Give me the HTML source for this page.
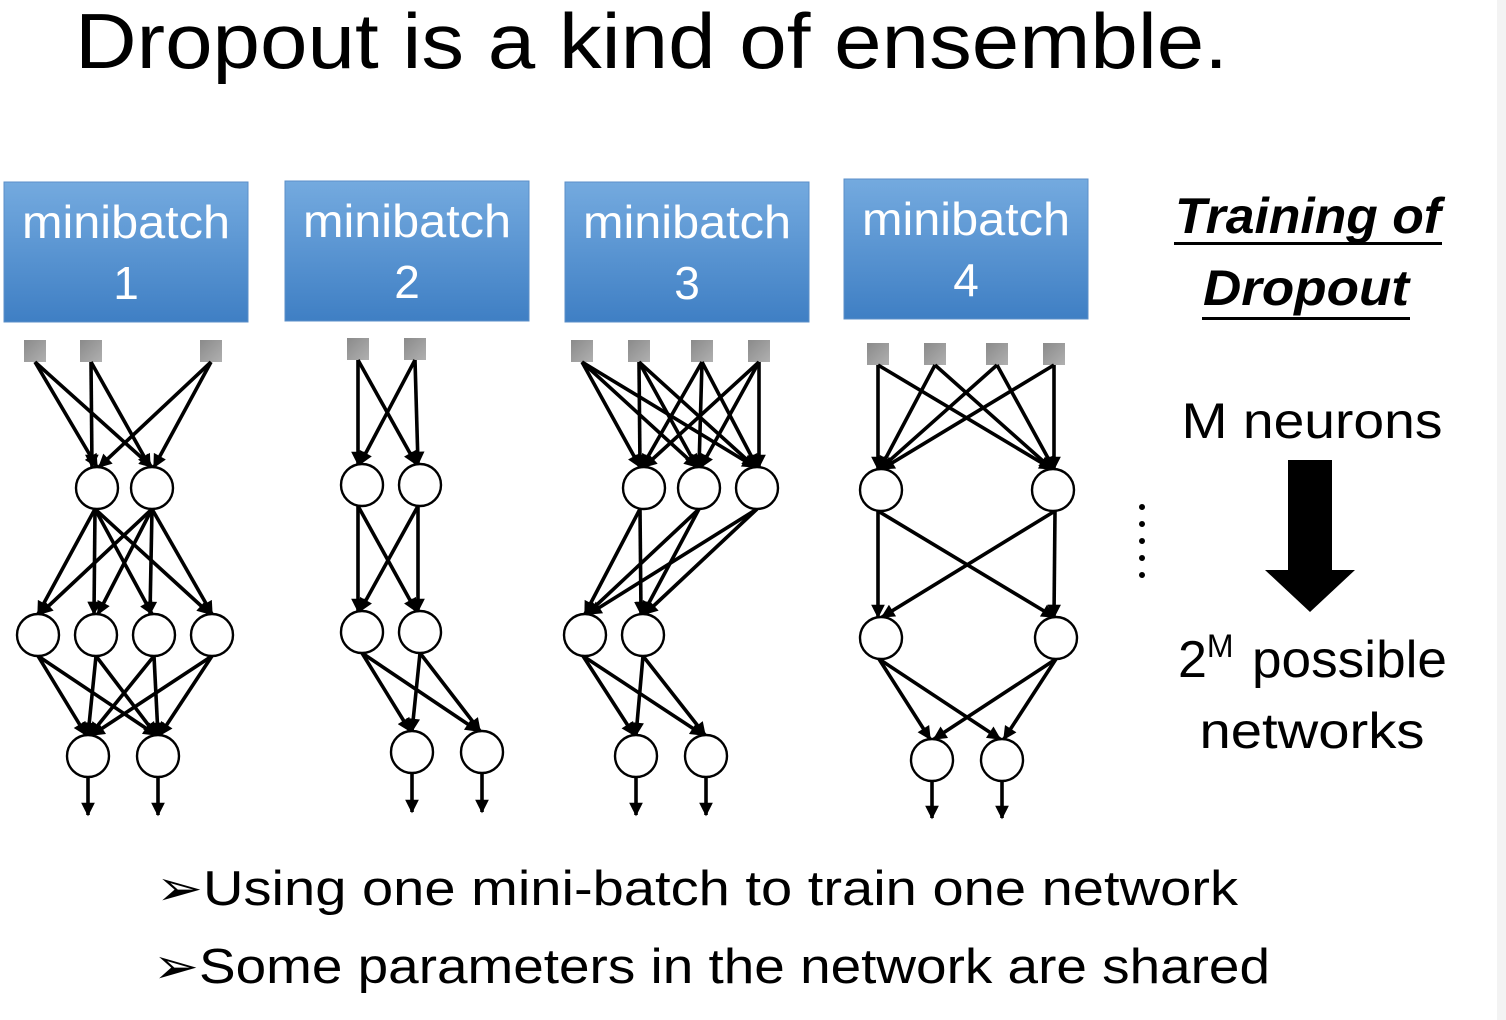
<!DOCTYPE html>
<html><head><meta charset="utf-8"><style>
html,body{margin:0;padding:0;background:#fff;}
svg{display:block;}
text{font-family:"Liberation Sans",sans-serif;}
</style></head><body>
<svg width="1506" height="1020" viewBox="0 0 1506 1020" xmlns="http://www.w3.org/2000/svg">
<defs>
<linearGradient id="bg" x1="0" y1="0" x2="0" y2="1">
<stop offset="0" stop-color="#74aadf"/><stop offset="1" stop-color="#3f7fc4"/>
</linearGradient>
<linearGradient id="sq" x1="0" y1="0" x2="1" y2="1">
<stop offset="0" stop-color="#8a8a8a"/><stop offset="1" stop-color="#b0b0b0"/>
</linearGradient>
<marker id="a" viewBox="0 0 10 10" refX="9" refY="5" markerWidth="4.2" markerHeight="3.8" orient="auto" markerUnits="strokeWidth">
<path d="M0,0 L10,5 L0,10 z" fill="#000"/>
</marker>
</defs>
<rect x="1497" y="0" width="9" height="1020" fill="#f3f3f3"/>
<text x="75" y="68" font-size="78" textLength="1153" lengthAdjust="spacingAndGlyphs" fill="#000">Dropout is a kind of ensemble.</text>

<g fill="url(#bg)" stroke="#5b8fc8" stroke-width="1">
<rect x="4" y="182" width="244" height="140"/>
<rect x="285" y="181" width="244" height="140"/>
<rect x="565" y="182" width="244" height="140"/>
<rect x="844" y="179" width="244" height="140"/>
</g>
<g fill="#fff" font-size="46" text-anchor="middle">
<text x="126" y="238" textLength="208" lengthAdjust="spacingAndGlyphs">minibatch</text><text x="126" y="299">1</text>
<text x="407" y="237" textLength="208" lengthAdjust="spacingAndGlyphs">minibatch</text><text x="407" y="298">2</text>
<text x="687" y="238" textLength="208" lengthAdjust="spacingAndGlyphs">minibatch</text><text x="687" y="299">3</text>
<text x="966" y="235" textLength="208" lengthAdjust="spacingAndGlyphs">minibatch</text><text x="966" y="296">4</text>
</g>

<g fill="url(#sq)">
<rect x="24" y="340" width="22" height="22"/><rect x="80" y="340" width="22" height="22"/><rect x="200" y="340" width="22" height="22"/>
<rect x="347" y="338" width="22" height="22"/><rect x="404" y="338" width="22" height="22"/>
<rect x="571" y="340" width="22" height="22"/><rect x="628" y="340" width="22" height="22"/><rect x="691" y="340" width="22" height="22"/><rect x="748" y="340" width="22" height="22"/>
<rect x="867" y="343" width="22" height="22"/><rect x="924" y="343" width="22" height="22"/><rect x="986" y="343" width="22" height="22"/><rect x="1043" y="343" width="22" height="22"/>
</g>

<g stroke="#000" stroke-width="3.6" marker-end="url(#a)">
<!-- net1 -->
<line x1="35" y1="362" x2="97" y2="467"/><line x1="35" y1="362" x2="152" y2="467"/>
<line x1="91" y1="362" x2="92" y2="467"/><line x1="91" y1="362" x2="150" y2="467"/>
<line x1="211" y1="362" x2="99" y2="467"/><line x1="211" y1="362" x2="154" y2="467"/>
<line x1="95" y1="509" x2="38" y2="614"/><line x1="95" y1="509" x2="94" y2="614"/><line x1="95" y1="509" x2="152" y2="614"/><line x1="95" y1="509" x2="210" y2="614"/>
<line x1="152" y1="509" x2="40" y2="614"/><line x1="152" y1="509" x2="98" y2="614"/><line x1="152" y1="509" x2="150" y2="614"/><line x1="152" y1="509" x2="212" y2="614"/>
<line x1="38" y1="656" x2="86" y2="735"/><line x1="38" y1="656" x2="156" y2="735"/>
<line x1="96" y1="656" x2="88" y2="735"/><line x1="96" y1="656" x2="156" y2="735"/>
<line x1="154" y1="656" x2="90" y2="735"/><line x1="154" y1="656" x2="158" y2="735"/>
<line x1="212" y1="656" x2="92" y2="735"/><line x1="212" y1="656" x2="160" y2="735"/>
<line x1="88" y1="777" x2="88" y2="815"/><line x1="158" y1="777" x2="158" y2="815"/>
<!-- net2 -->
<line x1="358" y1="360" x2="358" y2="464"/><line x1="358" y1="360" x2="416" y2="464"/>
<line x1="415" y1="360" x2="360" y2="464"/><line x1="415" y1="360" x2="418" y2="464"/>
<line x1="358" y1="506" x2="358" y2="611"/><line x1="358" y1="506" x2="416" y2="611"/>
<line x1="418" y1="506" x2="360" y2="611"/><line x1="418" y1="506" x2="418" y2="611"/>
<line x1="362" y1="653" x2="410" y2="731"/><line x1="362" y1="653" x2="478" y2="731"/>
<line x1="420" y1="653" x2="412" y2="731"/><line x1="420" y1="653" x2="480" y2="731"/>
<line x1="412" y1="773" x2="412" y2="812"/><line x1="482" y1="773" x2="482" y2="812"/>
<!-- net3 -->
<line x1="582" y1="362" x2="640" y2="467"/><line x1="582" y1="362" x2="697" y2="467"/><line x1="582" y1="362" x2="755" y2="467"/>
<line x1="639" y1="362" x2="640" y2="467"/><line x1="639" y1="362" x2="697" y2="467"/><line x1="639" y1="362" x2="755" y2="467"/>
<line x1="702" y1="362" x2="642" y2="467"/><line x1="702" y1="362" x2="699" y2="467"/><line x1="702" y1="362" x2="757" y2="467"/>
<line x1="759" y1="362" x2="644" y2="467"/><line x1="759" y1="362" x2="701" y2="467"/><line x1="759" y1="362" x2="759" y2="467"/>
<line x1="640" y1="509" x2="585" y2="614"/><line x1="640" y1="509" x2="641" y2="614"/>
<line x1="699" y1="509" x2="587" y2="614"/><line x1="699" y1="509" x2="643" y2="614"/>
<line x1="757" y1="509" x2="589" y2="614"/><line x1="757" y1="509" x2="645" y2="614"/>
<line x1="583" y1="656" x2="634" y2="735"/><line x1="583" y1="656" x2="703" y2="735"/>
<line x1="643" y1="656" x2="636" y2="735"/><line x1="643" y1="656" x2="705" y2="735"/>
<line x1="636" y1="777" x2="636" y2="815"/><line x1="706" y1="777" x2="706" y2="815"/>
<!-- net4 -->
<line x1="878" y1="365" x2="878" y2="469"/><line x1="878" y1="365" x2="1052" y2="469"/>
<line x1="935" y1="365" x2="880" y2="469"/><line x1="935" y1="365" x2="1052" y2="469"/>
<line x1="997" y1="365" x2="880" y2="469"/><line x1="997" y1="365" x2="1054" y2="469"/>
<line x1="1054" y1="365" x2="882" y2="469"/><line x1="1054" y1="365" x2="1054" y2="469"/>
<line x1="878" y1="511" x2="878" y2="617"/><line x1="878" y1="511" x2="1054" y2="617"/>
<line x1="1055" y1="511" x2="882" y2="617"/><line x1="1055" y1="511" x2="1054" y2="617"/>
<line x1="879" y1="659" x2="930" y2="739"/><line x1="879" y1="659" x2="1000" y2="739"/>
<line x1="1056" y1="659" x2="934" y2="739"/><line x1="1056" y1="659" x2="1004" y2="739"/>
<line x1="932" y1="781" x2="932" y2="818"/><line x1="1002" y1="781" x2="1002" y2="818"/>
</g>

<g fill="#fff" stroke="#000" stroke-width="2.4">
<circle cx="97" cy="488" r="21"/><circle cx="152" cy="488" r="21"/>
<circle cx="38" cy="635" r="21"/><circle cx="96" cy="635" r="21"/><circle cx="154" cy="635" r="21"/><circle cx="212" cy="635" r="21"/>
<circle cx="88" cy="756" r="21"/><circle cx="158" cy="756" r="21"/>
<circle cx="362" cy="485" r="21"/><circle cx="420" cy="485" r="21"/>
<circle cx="362" cy="632" r="21"/><circle cx="420" cy="632" r="21"/>
<circle cx="412" cy="752" r="21"/><circle cx="482" cy="752" r="21"/>
<circle cx="644" cy="488" r="21"/><circle cx="699" cy="488" r="21"/><circle cx="757" cy="488" r="21"/>
<circle cx="585" cy="635" r="21"/><circle cx="643" cy="635" r="21"/>
<circle cx="636" cy="756" r="21"/><circle cx="706" cy="756" r="21"/>
<circle cx="881" cy="490" r="21"/><circle cx="1053" cy="490" r="21"/>
<circle cx="881" cy="638" r="21"/><circle cx="1056" cy="638" r="21"/>
<circle cx="932" cy="760" r="21"/><circle cx="1002" cy="760" r="21"/>
</g>

<g fill="#000">
<circle cx="1142" cy="507" r="3"/><circle cx="1142" cy="524" r="3"/><circle cx="1142" cy="541" r="3"/><circle cx="1142" cy="558" r="3"/><circle cx="1142" cy="575" r="3"/>
</g>

<text x="1308" y="233" font-size="50" font-weight="bold" font-style="italic" text-anchor="middle" textLength="266" lengthAdjust="spacingAndGlyphs">Training of</text>
<rect x="1174" y="242" width="268" height="3" fill="#000"/>
<text x="1306" y="305" font-size="50" font-weight="bold" font-style="italic" text-anchor="middle" textLength="206" lengthAdjust="spacingAndGlyphs">Dropout</text>
<rect x="1202" y="317" width="208" height="3" fill="#000"/>
<text x="1312" y="438" font-size="50" text-anchor="middle" textLength="261" lengthAdjust="spacingAndGlyphs">M neurons</text>
<path d="M1288,460 H1332 V570 H1355 L1310,612 L1265,570 H1288 Z" fill="#000"/>
<text x="1178" y="677" font-size="52">2<tspan font-size="32" dy="-20">M</tspan></text>
<text x="1252" y="677" font-size="52" textLength="195" lengthAdjust="spacingAndGlyphs">possible</text>
<text x="1312" y="748" font-size="50" text-anchor="middle" textLength="225" lengthAdjust="spacingAndGlyphs">networks</text>

<text x="156" y="905" font-size="49" textLength="1082" lengthAdjust="spacingAndGlyphs">➢Using one mini-batch to train one network</text>
<text x="153" y="983" font-size="49" textLength="1117" lengthAdjust="spacingAndGlyphs">➢Some parameters in the network are shared</text>
</svg>
</body></html>
